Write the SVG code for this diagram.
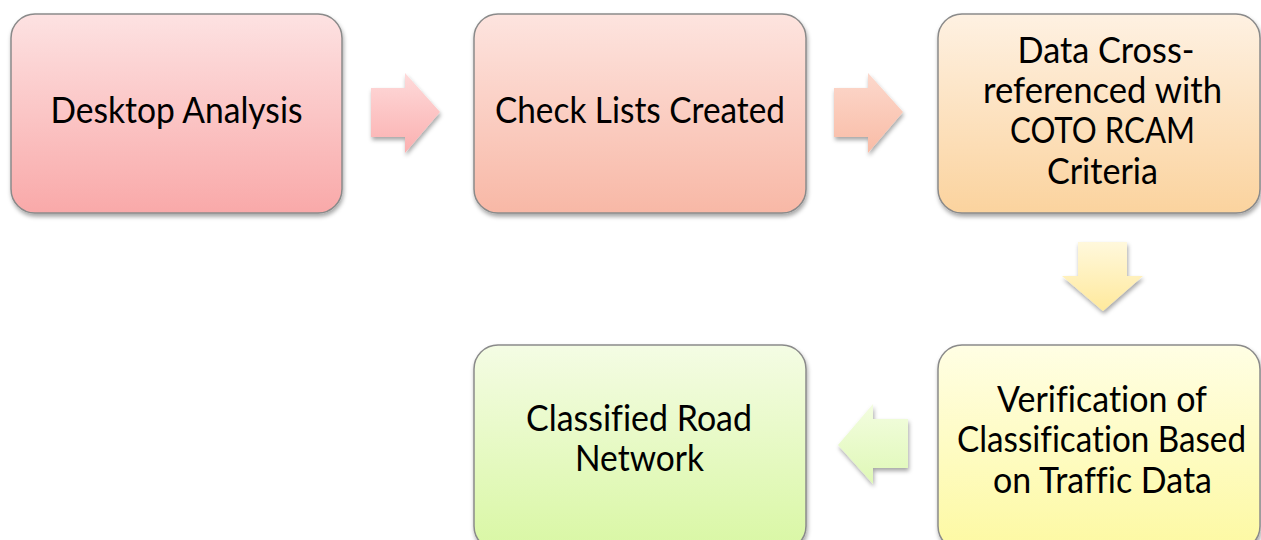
<svg xmlns="http://www.w3.org/2000/svg" width="1261" height="540" viewBox="0 0 1261 540">
  <defs>
    <linearGradient id="g-red" x1="0" y1="0" x2="0" y2="1">
      <stop offset="0" stop-color="#fde2e2"/>
      <stop offset="1" stop-color="#f9a9a9"/>
    </linearGradient>
    <linearGradient id="g-salmon" x1="0" y1="0" x2="0" y2="1">
      <stop offset="0" stop-color="#fde4df"/>
      <stop offset="1" stop-color="#f8b8a6"/>
    </linearGradient>
    <linearGradient id="g-orange" x1="0" y1="0" x2="0" y2="1">
      <stop offset="0" stop-color="#fef1e2"/>
      <stop offset="1" stop-color="#fbd39e"/>
    </linearGradient>
    <linearGradient id="g-yellow" x1="0" y1="0" x2="0" y2="1">
      <stop offset="0" stop-color="#fffee4"/>
      <stop offset="1" stop-color="#fdf9a2"/>
    </linearGradient>
    <linearGradient id="g-green" x1="0" y1="0" x2="0" y2="1">
      <stop offset="0" stop-color="#f4fce4"/>
      <stop offset="1" stop-color="#d9f7a4"/>
    </linearGradient>
    <linearGradient id="a-red" x1="0" y1="0" x2="0" y2="1">
      <stop offset="0" stop-color="#fedada"/>
      <stop offset="1" stop-color="#fbb0b0"/>
    </linearGradient>
    <linearGradient id="a-salmon" x1="0" y1="0" x2="0" y2="1">
      <stop offset="0" stop-color="#fcd8cc"/>
      <stop offset="1" stop-color="#f9bca6"/>
    </linearGradient>
    <linearGradient id="a-yellow" x1="0" y1="0" x2="0" y2="1">
      <stop offset="0" stop-color="#fff8dc"/>
      <stop offset="1" stop-color="#ffe99c"/>
    </linearGradient>
    <linearGradient id="a-green" x1="0" y1="0" x2="0" y2="1">
      <stop offset="0" stop-color="#f3fde0"/>
      <stop offset="1" stop-color="#dff8b6"/>
    </linearGradient>
    <filter id="shadow" x="-10%" y="-10%" width="125%" height="130%">
      <feDropShadow dx="1" dy="3" stdDeviation="2" flood-color="#000" flood-opacity="0.35"/>
    </filter>
  </defs>
  <style>
    .box { stroke: #8a8a8a; stroke-width: 1.5; filter: url(#shadow); }
    .arrow { filter: url(#shadow); }
    .label { font-family: Lato, "Open Sans", sans-serif; font-size: 36px; fill: #000; text-anchor: middle; font-variant-ligatures: none; }
  </style>

  <rect x="0" y="0" width="1261" height="540" fill="#ffffff"/>

  <!-- connectors -->
  <g id="connectors">
    <polygon class="arrow" fill="url(#a-red)" points="371,88 405,88 405,73 440,112 405,153 405,137 371,137"/>
    <polygon class="arrow" fill="url(#a-salmon)" points="834,88 868,88 868,73 903,112 868,153 868,137 834,137"/>
    <polygon class="arrow" fill="url(#a-yellow)" points="1078,242 1127,242 1127,276 1143,276 1103,311 1062,276 1078,276"/>
    <polygon class="arrow" fill="url(#a-green)" points="908,419 908,468 873,468 873,484 838,445 873,404 873,419"/>
  </g>

  <g id="desktop-analysis">
    <rect class="box" x="11" y="14" width="331" height="199" rx="24" fill="url(#g-red)"/>
    <text class="label" x="176.5" y="123" textLength="252" lengthAdjust="spacingAndGlyphs">Desktop Analysis</text>
  </g>

  <g id="check-lists">
    <rect class="box" x="474" y="14" width="332" height="199" rx="24" fill="url(#g-salmon)"/>
    <text class="label" x="640" y="123" textLength="290" lengthAdjust="spacingAndGlyphs">Check Lists Created</text>
  </g>

  <g id="cross-reference">
    <rect class="box" x="938" y="14" width="322" height="199" rx="24" fill="url(#g-orange)"/>
    <text class="label" x="1106" y="63" textLength="177" lengthAdjust="spacingAndGlyphs">Data Cross-</text>
    <text class="label" x="1102.5" y="103" textLength="239" lengthAdjust="spacingAndGlyphs">referenced with</text>
    <text class="label" x="1102.5" y="143" textLength="185" lengthAdjust="spacingAndGlyphs">COTO RCAM</text>
    <text class="label" x="1102.5" y="184" textLength="111" lengthAdjust="spacingAndGlyphs">Criteria</text>
  </g>

  <g id="verification">
    <rect class="box" x="938" y="345" width="322" height="205" rx="24" fill="url(#g-yellow)"/>
    <text class="label" x="1102" y="412" textLength="210" lengthAdjust="spacingAndGlyphs">Verification of</text>
    <text class="label" x="1101.5" y="452" textLength="289" lengthAdjust="spacingAndGlyphs">Classification Based</text>
    <text class="label" x="1102.5" y="493" textLength="219" lengthAdjust="spacingAndGlyphs">on Traffic Data</text>
  </g>

  <g id="classified-network">
    <rect class="box" x="474" y="345" width="332" height="205" rx="24" fill="url(#g-green)"/>
    <text class="label" x="639" y="431" textLength="226" lengthAdjust="spacingAndGlyphs">Classified Road</text>
    <text class="label" x="639.5" y="471" textLength="129" lengthAdjust="spacingAndGlyphs">Network</text>
  </g>
</svg>
